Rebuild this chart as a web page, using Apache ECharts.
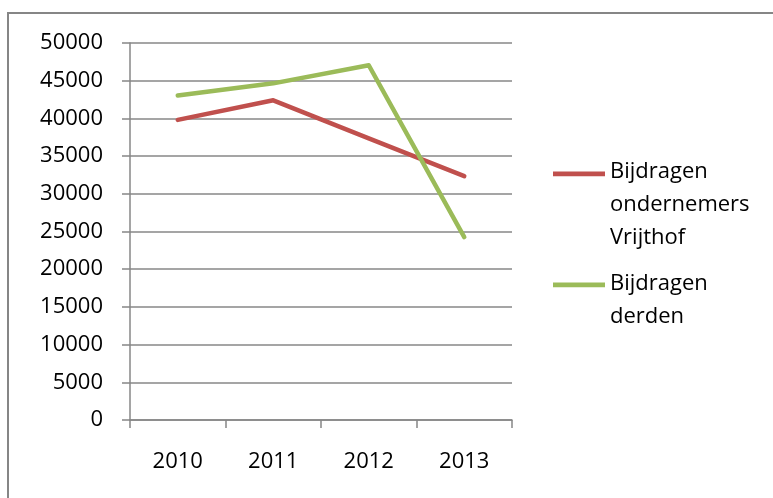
<!DOCTYPE html>
<html>
<head>
<meta charset="utf-8">
<title>Bijdragen</title>
<script src="https://cdn.jsdelivr.net/npm/echarts@6/dist/echarts.min.js"></script>
<style>
  html, body { margin: 0; padding: 0; background: #fff; }
  #chart { width: 773px; height: 498px; }
</style>
</head>
<body>
<div id="chart"></div>
<script>
const years = ['2010', '2011', '2012', '2013'];
const ondernemers = [39800, 42400, 37350, 32350];
const derden = [43050, 44650, 47050, 24250];
const seriesNames = ['Bijdragen\nondernemers\nVrijthof', 'Bijdragen\nderden'];
const colors = ['#C0504D', '#9BBB59'];

const gridGrey = '#878787';
const font = '"Open Sans", "Liberation Sans", sans-serif';

// legend icon: thin bar at the top of a tall box, so the first text line sits on it
const topBar = (h) => `path://M0,0L0,0M0,14L55,14L55,19L0,19ZM55,${h}L55,${h}`;

const legendBase = {
  orient: 'vertical',
  left: 553,
  padding: 0,
  itemWidth: 52,
  selectedMode: false,
  textStyle: { fontFamily: font, fontSize: 22, lineHeight: 33, color: '#000' },
};

const option = {
  animation: false,
  color: colors,
  graphic: [{
    type: 'rect',
    shape: { x: 8, y: 13, width: 800, height: 600 },
    style: { fill: 'none', stroke: '#868686', lineWidth: 2 },
    silent: true,
  }],
  grid: { left: 130, right: 261, top: 43, bottom: 78 },
  legend: [
    Object.assign({}, legendBase, {
      top: 155.5, itemHeight: 99, icon: topBar(99), data: [seriesNames[0]],
    }),
    Object.assign({}, legendBase, {
      top: 267.5, itemHeight: 66, icon: topBar(66), data: [seriesNames[1]],
    }),
  ],
  xAxis: {
    type: 'category',
    data: years,
    boundaryGap: true,
    axisLine: { lineStyle: { color: gridGrey, width: 1.5 } },
    axisTick: { show: true, length: 8, lineStyle: { color: gridGrey, width: 1.5 } },
    axisLabel: { margin: 31, fontFamily: font, fontSize: 22, color: '#000' },
    splitLine: { show: false },
  },
  yAxis: {
    type: 'value',
    min: 0,
    max: 50000,
    interval: 5000,
    axisLine: { show: true, lineStyle: { color: gridGrey, width: 1.5 } },
    axisTick: { show: true, length: 8, lineStyle: { color: gridGrey, width: 1.5 } },
    axisLabel: {
      margin: 27, fontFamily: font, fontSize: 22, color: '#000',
      formatter: (v) => String(v),
    },
    splitLine: { show: true, lineStyle: { color: gridGrey, width: 1.5 } },
  },
  series: [
    {
      name: seriesNames[0],
      type: 'line',
      data: ondernemers,
      showSymbol: false,
      symbol: 'none',
      lineStyle: { width: 4.5, color: colors[0], cap: 'round', join: 'round' },
    },
    {
      name: seriesNames[1],
      type: 'line',
      data: derden,
      showSymbol: false,
      symbol: 'none',
      lineStyle: { width: 4.5, color: colors[1], cap: 'round', join: 'round' },
    },
  ],
};

const chart = echarts.init(document.getElementById('chart'), null, { renderer: 'canvas' });
chart.setOption(option);
</script>
</body>
</html>
